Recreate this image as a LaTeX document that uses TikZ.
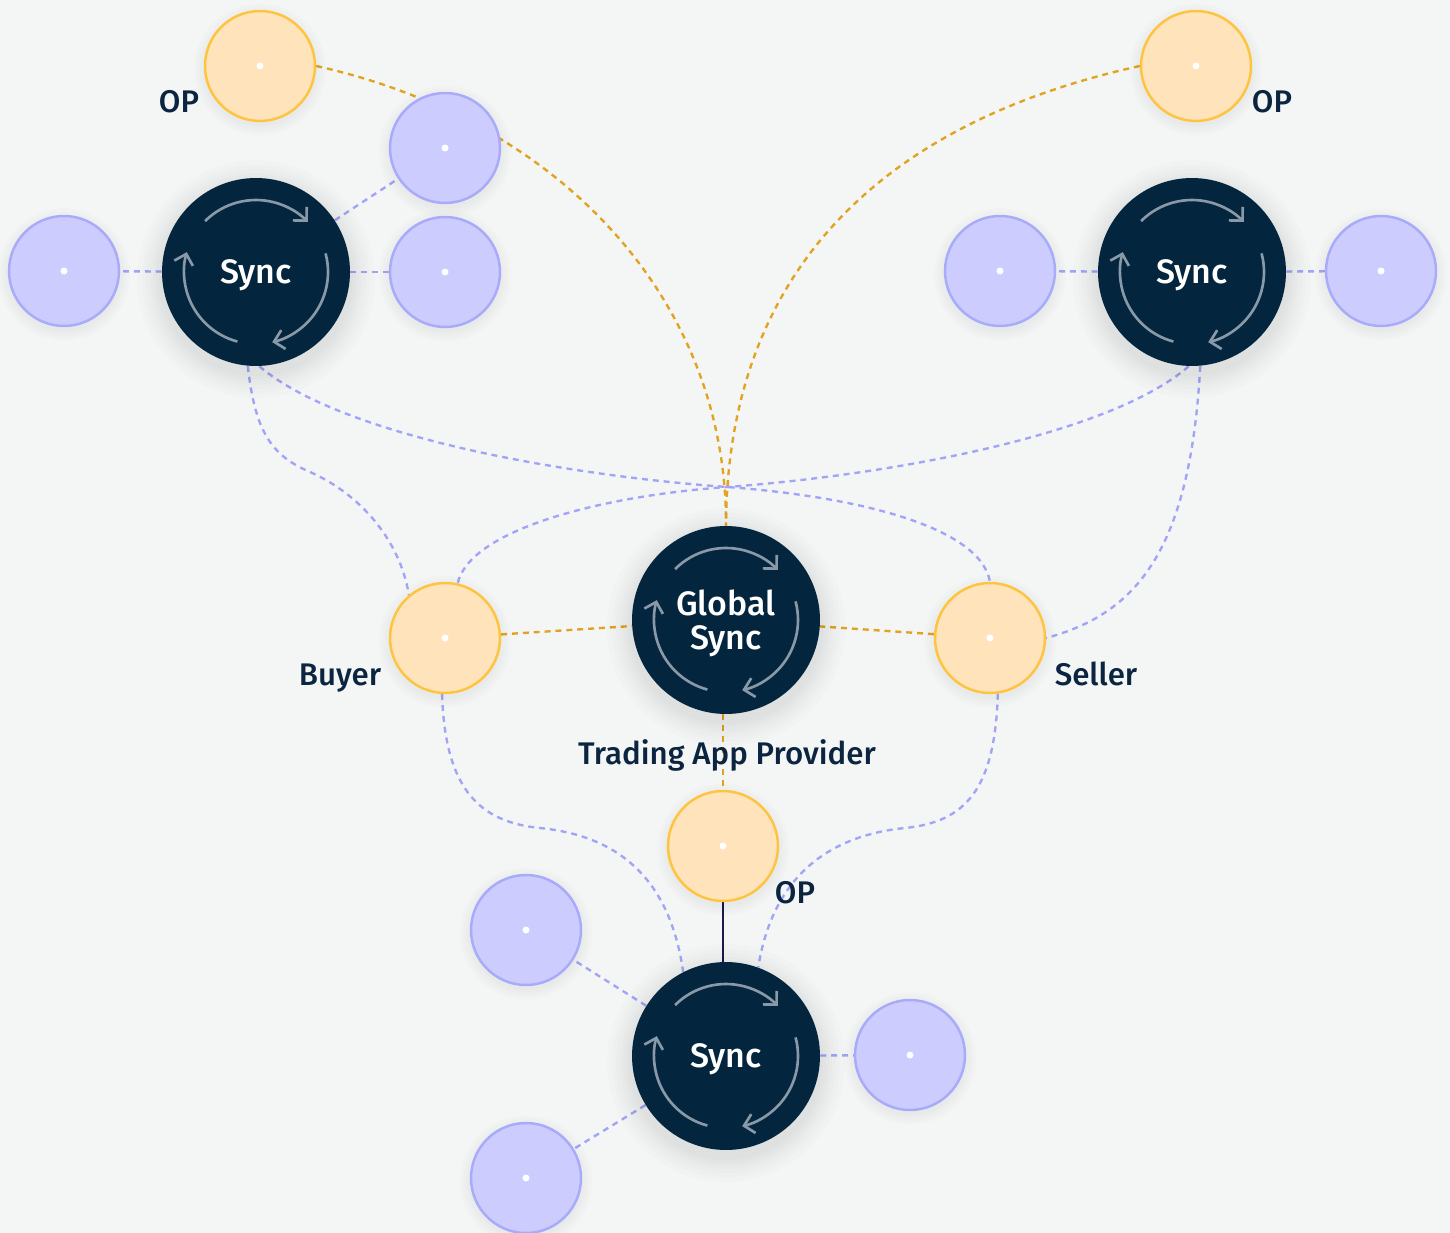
\documentclass[tikz,border=0pt]{standalone}
\usepackage{fontspec}
\setmainfont{Fira Sans}[BoldFont={Fira Sans Medium}]
\usetikzlibrary{arrows.meta}
\definecolor{bgc}{HTML}{F4F6F6}
\definecolor{pfill}{HTML}{CCCCFF}
\definecolor{pline}{HTML}{A8ABF9}
\definecolor{pdashc}{HTML}{A2A5F6}
\definecolor{ofill}{HTML}{FFE3BB}
\definecolor{oline}{HTML}{FFC43F}
\definecolor{odashc}{HTML}{E1A320}
\definecolor{navy}{HTML}{03263E}
\definecolor{arrc}{HTML}{8A99A8}
\definecolor{txt}{HTML}{0B2540}
\definecolor{solidc}{HTML}{1B1B4B}
\pgfdeclarelayer{background}
\pgfdeclarelayer{edges}
\pgfdeclarelayer{halo}
\pgfsetlayers{background,edges,halo,main}
\newcommand\lblfont{\fontsize{17.8}{20}\selectfont\bfseries}
\newcommand\syncfont{\fontsize{19.3}{19.3}\selectfont\bfseries}
\begin{document}
\begin{tikzpicture}[x=0.02cm,y=0.02cm,
  pnode/.style={circle, minimum size=2.2cm, inner sep=0pt, fill=pfill, draw=pline, line width=1.4pt},
  onode/.style={circle, minimum size=2.2cm, inner sep=0pt, fill=ofill, draw=oline, line width=1.4pt},
  snode/.style={circle, minimum size=3.76cm, inner sep=0pt, fill=navy, text=white, font=\syncfont,
    align=center, text depth=0pt},
  pdash/.style={draw=pdashc, line width=1.35pt, dash pattern=on 3.4pt off 2.8pt},
  odash/.style={draw=odashc, line width=1.35pt, dash pattern=on 3.4pt off 2.8pt},
  lbl/.style={text=txt, font=\lblfont, anchor=base, inner sep=0pt},
  cyc/.style={draw=arrc, line width=1.5pt, -{Straight Barb[length=5.5pt,width=11pt]}},
  halofill/.style={fill=black, opacity=0.011}
]
\useasboundingbox (0,0) rectangle (1450,-1233);
\begin{pgfonlayer}{background}
\fill[bgc] (0,0) rectangle (1450,-1233);
\end{pgfonlayer}

% sync nodes
\node[snode] (ls) at (256,-272) {Sync};
\node[snode] (rs) at (1192,-272) {Sync};
\node[snode] (gs) at (726,-620) {Global\\Sync};
\node[snode] (bs) at (726,-1056) {Sync};

% small nodes
\node[onode] (op1) at (260,-66) {};
\node[onode] (op2) at (1196,-66) {};
\node[onode] (buyer) at (445,-638) {};
\node[onode] (seller) at (990,-638) {};
\node[onode] (opb) at (723,-846) {};
\node[pnode] (pl1) at (64,-271) {};
\node[pnode] (pl2) at (445,-272) {};
\node[pnode] (pl3) at (445,-148) {};
\node[pnode] (pr1) at (1000,-271) {};
\node[pnode] (pr2) at (1381,-271) {};
\node[pnode] (pb1) at (526,-930) {};
\node[pnode] (pb2) at (910,-1055) {};
\node[pnode] (pb3) at (526,-1178) {};

\foreach \n in {op1,op2,buyer,seller,opb,pl1,pl2,pl3,pr1,pr2,pb1,pb2,pb3}
  \fill[white] (\n) circle (3.5);

% soft halos
\begin{pgfonlayer}{halo}
\foreach \n in {ls,rs,gs,bs}
  \foreach \d in {3,6,9,12,16,20,25}
    \fill[halofill] ([yshift=-4pt]\n.center) circle[radius=94+\d];
\foreach \n in {op1,op2,buyer,seller,opb,pl1,pl2,pl3,pr1,pr2,pb1,pb2,pb3}
  \foreach \d in {2,5,8,11}
    \fill[halofill] ([yshift=-2pt]\n.center) circle[radius=55+\d];
\end{pgfonlayer}

% cycle arrows
\foreach \n in {ls,rs,gs,bs}{
  \foreach \a/\b in {135/44, 15/-77, -105/-196}
    \draw[cyc] (\n) ++(\a:72) arc[start angle=\a, end angle=\b, radius=72];
}

% labels
\node[lbl] (lop1) at (179,-113) {OP};
\node[lbl] (lop2) at (1272,-113) {OP};
\node[lbl] (lbuy) at (340,-685) {Buyer};
\node[lbl] (lsel) at (1096,-685) {Seller};
\node[lbl] (ltap) at (727,-764) {Trading App Provider};
\node[lbl] (lop3) at (795,-903) {OP};

\begin{pgfonlayer}{edges}
% short purple links
\draw[pdash] (ls) -- (pl1);
\draw[pdash] (ls) -- (pl2);
\draw[pdash] (ls) -- (pl3);
\draw[pdash] (rs) -- (pr1);
\draw[pdash] (rs) -- (pr2);
\draw[pdash] (bs) -- (pb1);
\draw[pdash] (bs) -- (pb2);
\draw[pdash] (bs) -- (pb3);
% long purple curves
\draw[pdash] (ls.-95) .. controls (255,-430) and (270,-455) .. (310,-472)
  .. controls (360,-494) and (400,-540) .. (buyer.130);
\draw[pdash] (ls.-88) .. controls (340,-435) and (560,-475) .. (727,-487)
  .. controls (850,-496) and (980,-525) .. (seller.90);
\draw[pdash] (rs.-92) .. controls (1110,-435) and (890,-475) .. (727,-487)
  .. controls (600,-496) and (470,-530) .. (buyer.77);
\draw[pdash] (rs.-85) .. controls (1190,-560) and (1130,-615) .. (seller.east);
\draw[pdash] (buyer.-93) .. controls (445,-790) and (480,-822) .. (540,-828)
  .. controls (620,-836) and (670,-880) .. (bs.117);
\draw[pdash] (seller.-82) .. controls (995,-790) and (965,-822) .. (905,-828)
  .. controls (825,-836) and (772,-880) .. (bs.70);
% orange
\draw[odash] (op1.east) .. controls (560,-120) and (727,-300) .. (gs.north);
\draw[odash] (op2.west) .. controls (850,-130) and (727,-300) .. (gs.north);
\draw[odash] (buyer) -- (gs);
\draw[odash] (seller) -- (gs);
\draw[odash] (gs.south -| opb) -- (opb.north);
\draw[solidc, line width=1.3pt] (opb.south) -- (opb.south |- bs.north);
\end{pgfonlayer}
\end{tikzpicture}
\end{document}
